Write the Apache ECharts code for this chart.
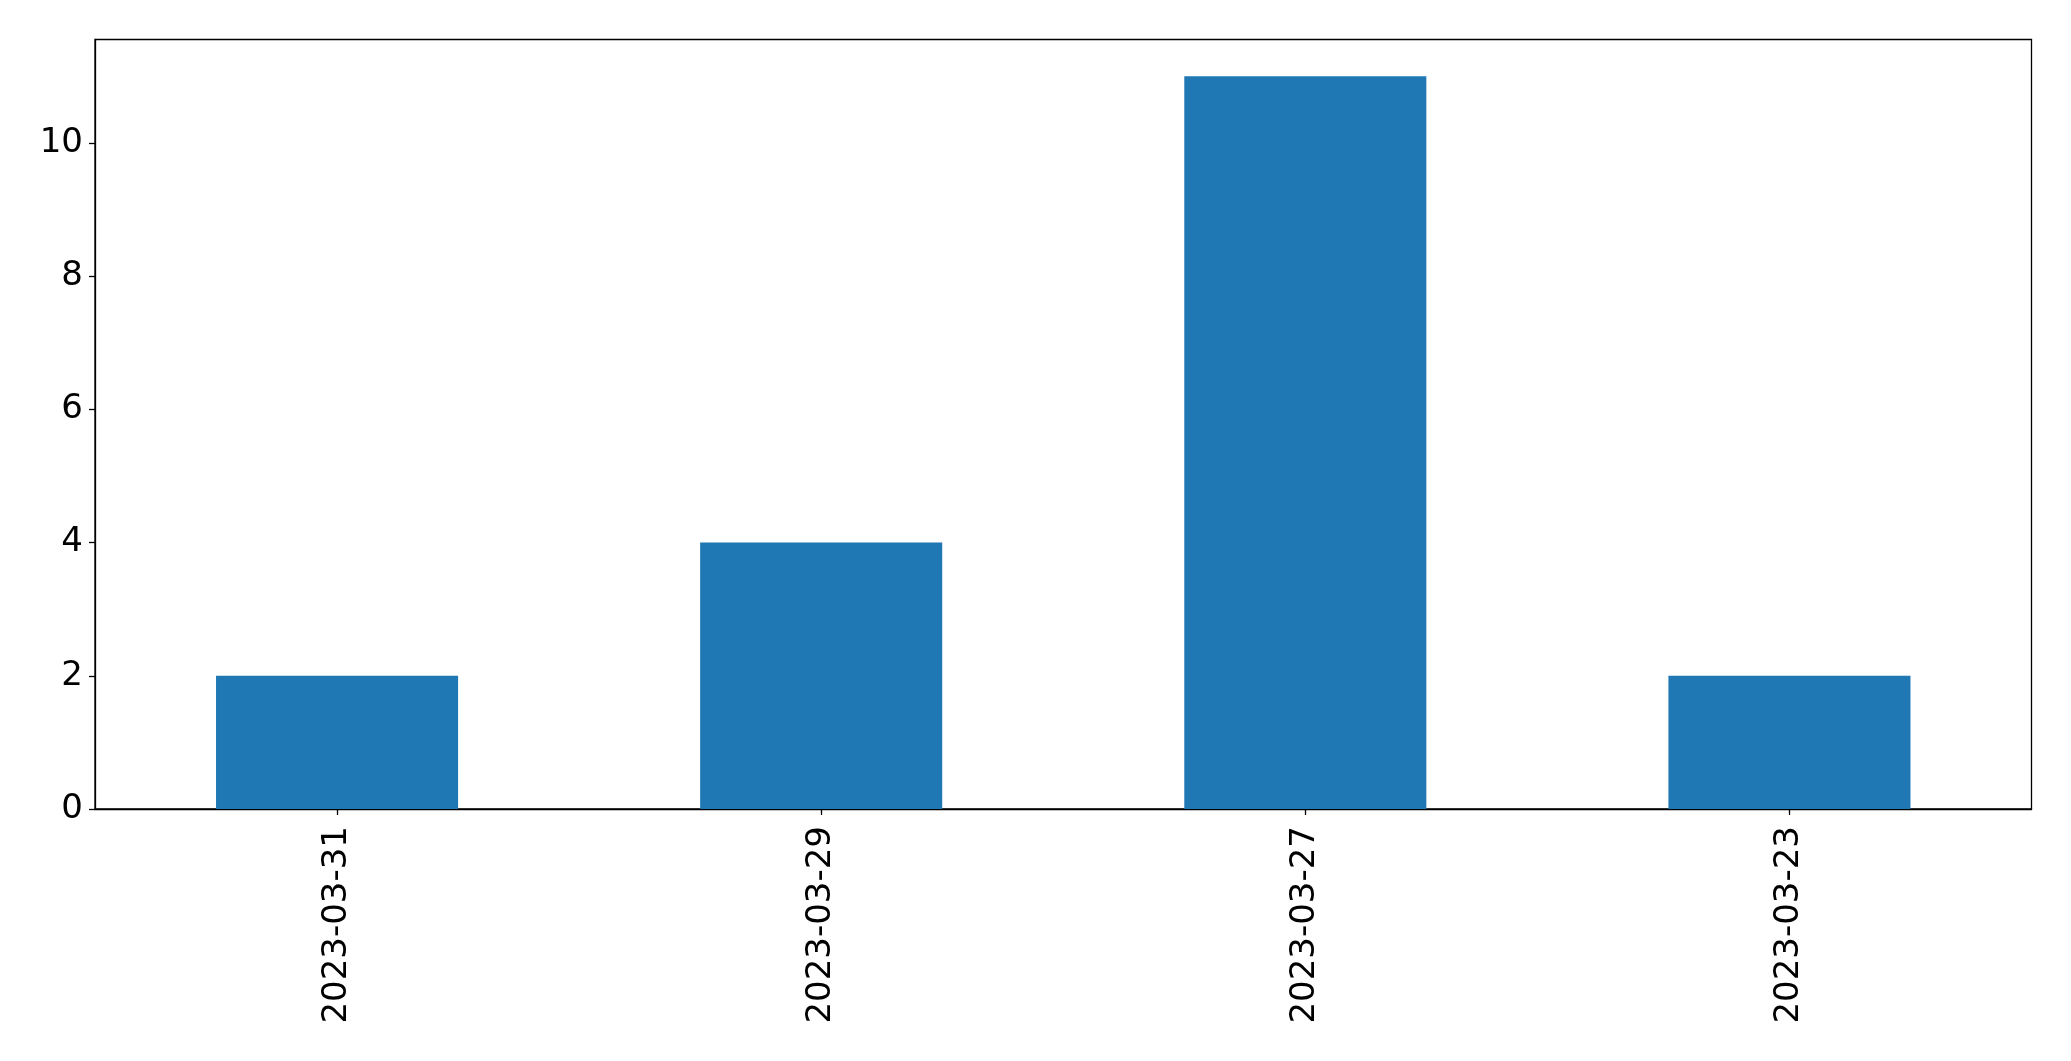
<!DOCTYPE html>
<html>
<head>
<meta charset="utf-8">
<script src="https://cdn.jsdelivr.net/npm/echarts@6/dist/echarts.min.js"></script>
<style>
html,body{margin:0;padding:0;background:#fff;}
#chart{width:2071px;height:1061px;}
</style>
</head>
<body>
<div id="chart"></div>
<script>
const categories = ['2023-03-31', '2023-03-29', '2023-03-27', '2023-03-23'];
const values = [2, 4, 11, 2];
const yMax = 11.55;

const chart = echarts.init(document.getElementById('chart'), null, {renderer: 'canvas'});
chart.setOption({
  animation: false,
  backgroundColor: '#ffffff',
  grid: {
    left: 95, right: 39.5, top: 39.5, bottom: 252,
    show: true, borderColor: '#000', borderWidth: 1.3, backgroundColor: 'transparent'
  },
  xAxis: {
    type: 'category',
    data: categories,
    axisLine: {show: true, lineStyle: {color: '#000', width: 1.3}},
    axisTick: {show: true, alignWithLabel: true, length: 6, lineStyle: {color: '#000', width: 1.3}},
    axisLabel: {rotate: 90, margin: 17, fontSize: 34, color: '#000', fontFamily: 'DejaVu Sans'},
    splitLine: {show: false}
  },
  yAxis: {
    type: 'value',
    min: 0, max: yMax, interval: 2,
    axisLine: {show: true, lineStyle: {color: '#000', width: 1.3}},
    axisTick: {show: true, length: 6, lineStyle: {color: '#000', width: 1.3}},
    axisLabel: {margin: 12, fontSize: 34, color: '#000', fontFamily: 'DejaVu Sans', showMaxLabel: false},
    splitLine: {show: false}
  },
  series: [{
    type: 'bar',
    data: values,
    barWidth: '50%',
    itemStyle: {color: '#1f77b4'}
  }]
});
</script>
</body>
</html>
